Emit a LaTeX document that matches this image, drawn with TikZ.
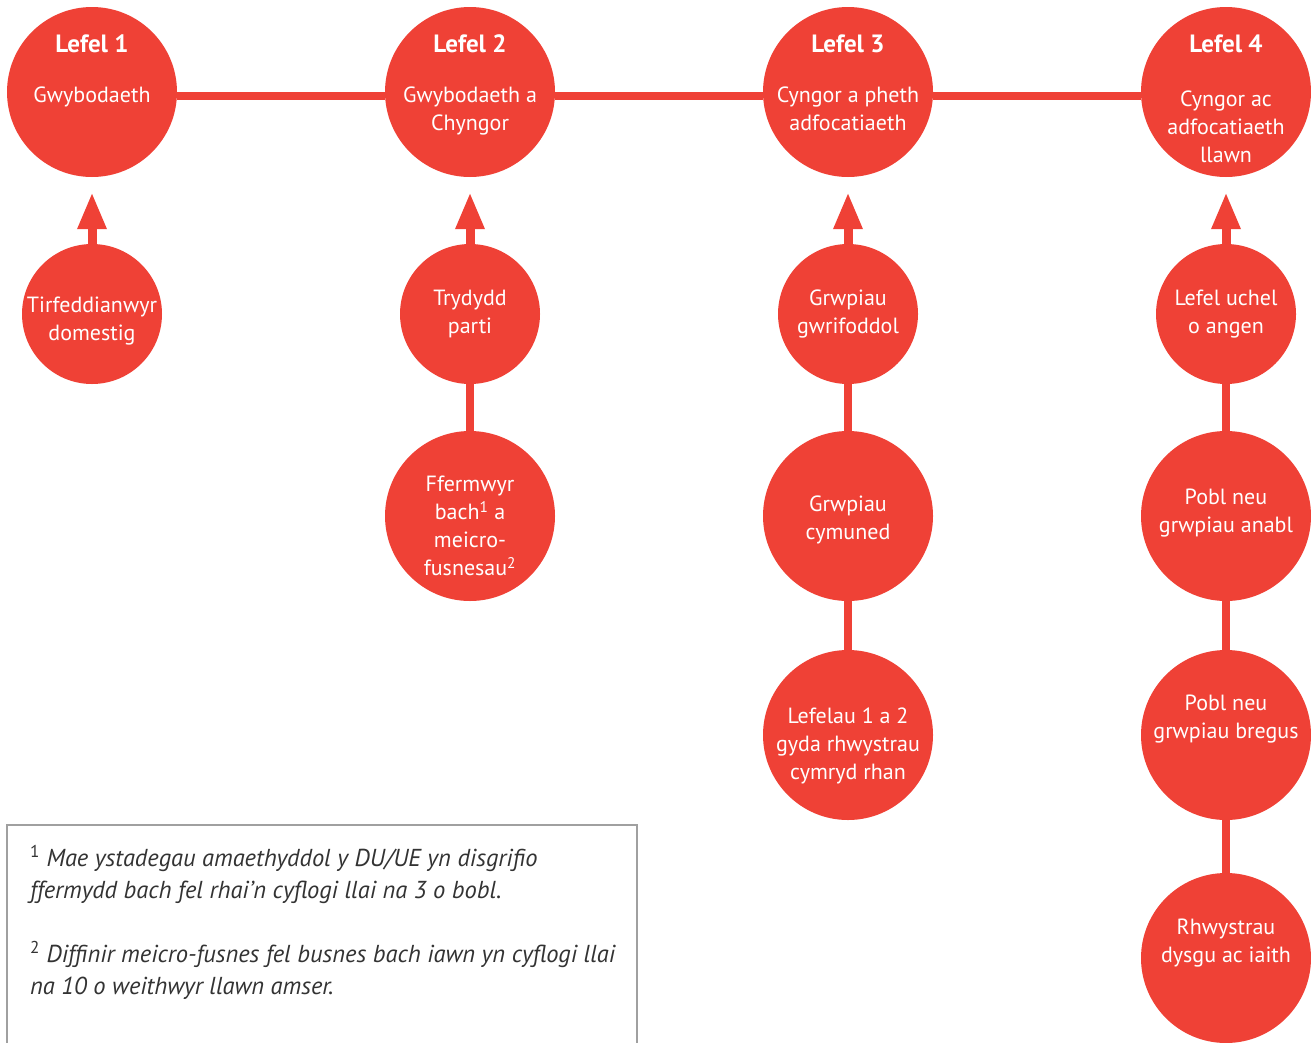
\documentclass[tikz,border=0pt]{standalone}
\usepackage{fontspec}
\setmainfont{PT Sans}
\usetikzlibrary{arrows.meta}
\definecolor{lefelred}{RGB}{239,65,54}
\definecolor{boxgray}{RGB}{160,160,160}
\tikzset{
  lefel/.style={circle, fill=lefelred, minimum size=170pt, inner sep=0pt},
  sub/.style={circle, fill=lefelred, minimum size=140pt, inner sep=0pt},
  subbig/.style={sub, minimum size=170pt},
  head/.style={text=white, anchor=base, font=\bfseries\fontsize{25}{28}\selectfont},
  body/.style={text=white, anchor=north, align=center, inner sep=0pt,
    font=\fontsize{22}{28}\selectfont},
  words/.style={text=white, align=center, inner sep=0pt,
    font=\fontsize{22}{28}\selectfont},
  link/.style={lefelred, line width=8pt},
  up/.style={lefelred, line width=9pt, -{Triangle[length=37pt,width=27pt]}, shorten >=15pt}
}
\begin{document}
\begin{tikzpicture}[x=1pt, y=-1pt]
        \useasboundingbox (0,0) rectangle (1311,1042);

        % level circles
        \node[lefel] (l1) at (92,92) {};
        \node[lefel] (l2) at (470,92) {};
        \node[lefel] (l3) at (848,92) {};
        \node[lefel] (l4) at (1226,92) {};

        \draw[link] ([yshift=-4pt]l1.east) -- ([yshift=-4pt]l2.west);
        \draw[link] ([yshift=-4pt]l2.east) -- ([yshift=-4pt]l3.west);
        \draw[link] ([yshift=-4pt]l3.east) -- ([yshift=-4pt]l4.west);

        \node[head] (h1) at (92,52) {Lefel 1};
        \node[head] (h2) at (470,52) {Lefel 2};
        \node[head] (h3) at (848,52) {Lefel 3};
        \node[head] (h4) at (1226,52) {Lefel 4};

        \node[body] (t1) at (92,87) {Gwybodaeth};
        \node[body] (t2) at (470,87) {Gwybodaeth a\\Chyngor};
        \node[body] (t3) at (848,87) {Cyngor a pheth\\adfocatiaeth};
        \node[body] (t4) at (1226,91) {Cyngor ac\\adfocatiaeth\\llawn};

        % column 1
        \node[sub] (a1) at (92,314) {};
        \node[words] (a1t) at (92,321) {Tirfeddianwyr\\domestig};

        % column 2
        \node[sub] (b1) at (470,314) {};
        \node[subbig] (b2) at (470,516) {};
        \node[words] (b1t) at (470,314) {Trydydd\\parti};
        \node[words] (b2t) at (470,526) {Ffermwyr\\bach\textsuperscript{1} a\\meicro-\\fusnesau\textsuperscript{2}};

        % column 3
        \node[sub] (c1) at (848,314) {};
        \node[subbig] (c2) at (848,516) {};
        \node[subbig] (c3) at (848,735) {};
        \node[words] (c1t) at (848,314) {Grwpiau\\gwrifoddol};
        \node[words] (c2t) at (848,520) {Grwpiau\\cymuned};
        \node[words] (c3t) at (848,746) {Lefelau 1 a 2\\gyda rhwystrau\\cymryd rhan};

        % column 4
        \node[sub] (d1) at (1226,314) {};
        \node[subbig] (d2) at (1226,516) {};
        \node[subbig] (d3) at (1226,735) {};
        \node[subbig] (d4) at (1226,958) {};
        \node[words] (d1t) at (1226,314) {Lefel uchel\\o angen};
        \node[words] (d2t) at (1226,513) {Pobl neu\\grwpiau anabl};
        \node[words] (d3t) at (1226,719) {Pobl neu\\grwpiau bregus};
        \node[words] (d4t) at (1226,943) {Rhwystrau\\dysgu ac iaith};

        \draw[up] (a1) -- (l1);
        \draw[up] (b1) -- (l2);
        \draw[up] (c1) -- (l3);
        \draw[up] (d1) -- (l4);

        \draw[link] (b1) -- (b2);
        \draw[link] (c1) -- (c2);
        \draw[link] (c2) -- (c3);
        \draw[link] (d1) -- (d2);
        \draw[link] (d2) -- (d3);
        \draw[link] (d3) -- (d4);

        % footnotes
        \draw[boxgray, line width=1.2pt] (7,1050) -- (7,825) -- (637,825) -- (637,1050);
        \node[anchor=north west, align=left, inner sep=0pt, text=black!80,
          font=\itshape\fontsize{24.5}{32}\selectfont] (notes) at (30,845)
          {\textsuperscript{\upshape 1} Mae ystadegau amaethyddol y DU/UE yn disgrifio\\
           ffermydd bach fel rhai’n cyflogi llai na 3 o bobl.\\[32pt]
           \textsuperscript{\upshape 2} Diffinir meicro-fusnes fel busnes bach iawn yn cyflogi llai\\
           na 10 o weithwyr llawn amser.};
\end{tikzpicture}
\end{document}
